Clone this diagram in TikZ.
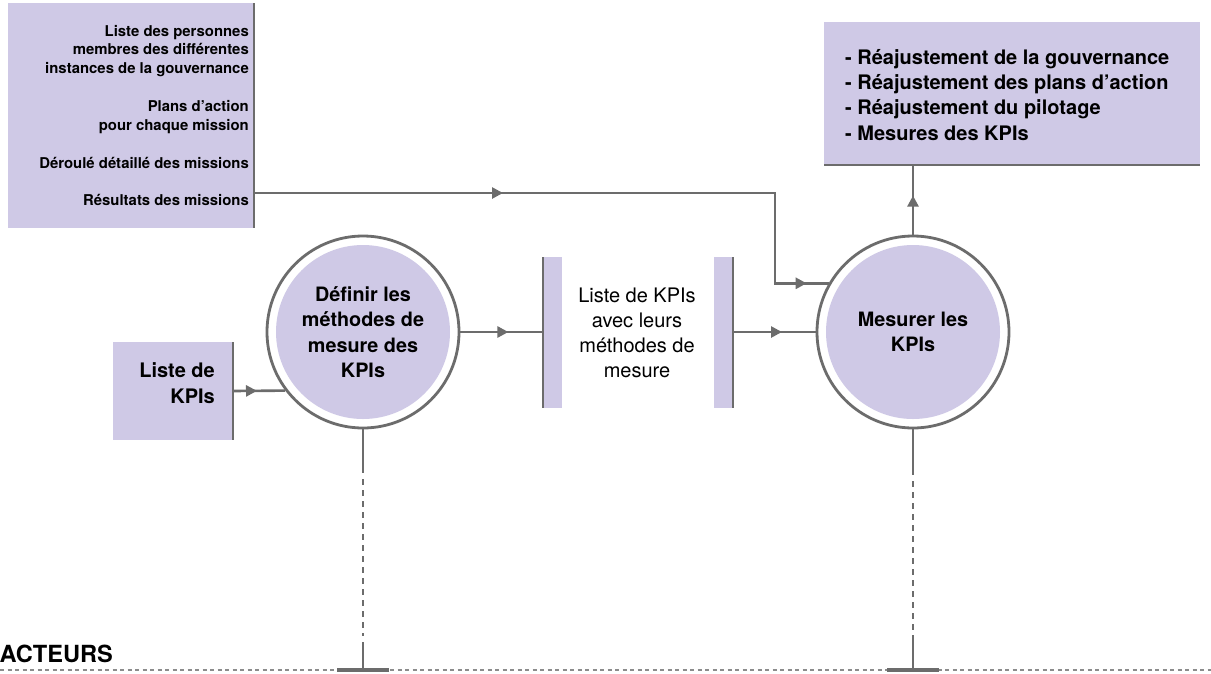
\documentclass[tikz,border=0pt]{standalone}
\usepackage{fontspec}
\setmainfont{TeX Gyre Heros}
\usetikzlibrary{arrows.meta,decorations.markings}
\definecolor{lav}{RGB}{207,201,230}
\definecolor{lg}{RGB}{108,108,108}
\definecolor{dg}{RGB}{140,140,140}
\begin{document}
\begin{tikzpicture}[x=1pt,y=-1pt,
  box/.style={fill=lav, inner sep=0pt, outer sep=0pt, anchor=north west},
  edgeline/.style={draw=lg, line width=2.8pt},
  flow/.style={draw=lg, line width=2.6pt},
  tipat/.style={postaction={decorate,decoration={markings,mark=at position #1 with {\arrow{Triangle[length=11pt,width=11pt,color=lg]}}}}},
  proc/.style={circle, minimum size=192pt, inner sep=0pt, draw=lg, line width=2.8pt, fill=white,
    path picture={\fill[lav] (path picture bounding box.center) circle (87pt);},
    font=\bfseries\fontsize{19.8}{25.3}\selectfont, align=center, text=black},
  smalltxt/.style={font=\bfseries\fontsize{14.9}{18.5}\selectfont, align=right, inner sep=0pt, anchor=base east},
  bigtxt/.style={font=\bfseries\fontsize{20}{25.3}\selectfont, inner sep=0pt},
  regtxt/.style={font=\fontsize{20}{25}\selectfont, inner sep=0pt, align=center},
  dashv/.style={draw=lg, line width=1.4pt, dash pattern=on 6pt off 5pt},
  dotsh/.style={draw=dg, line width=1.5pt, dash pattern=on 4pt off 3.5pt},
  actbar/.style={draw=lg, line width=4pt}
]
\useasboundingbox (0,0) rectangle (1211,673);

% input box (top left)
\node[box, minimum width=246pt, minimum height=225pt] (inputs) at (8,3) {};
\draw[edgeline] (inputs.north east) -- (inputs.south east);
\node[smalltxt] (in1) at (249,73) {Liste des personnes\\membres des différentes\\instances de la gouvernance};
\node[smalltxt] (in2) at (249,130) {Plans d’action\\pour chaque mission};
\node[smalltxt] (in3) at (249,168) {Déroulé détaillé des missions};
\node[smalltxt] (in4) at (249,205) {Résultats des missions};

% output box (top right)
\node[box, minimum width=376pt, minimum height=143pt] (outbox) at (824,22) {};
\draw[edgeline] (outbox.south west) -- (outbox.south east);
\node[bigtxt, align=left, anchor=base west] (outtxt) at (845,140) {- Réajustement de la gouvernance\\- Réajustement des plans d’action\\- Réajustement du pilotage\\- Mesures des KPIs};

% KPI list box
\node[box, minimum width=120pt, minimum height=98pt] (kpi) at (113,342) {};
\draw[edgeline] (kpi.north east) -- (kpi.south east);
\node[bigtxt, align=right, anchor=base east] (kpitxt) at (215,403) {Liste de\\KPIs};

% processes
\node[proc] (c1) at (363,332) {Définir les\\méthodes de\\mesure des\\KPIs};
\node[proc] (c2) at (913,332) {Mesurer les\\KPIs};

% data store
\node[box, minimum width=19pt, minimum height=151pt] (bar1) at (543,257) {};
\draw[edgeline] (bar1.north west) -- (bar1.south west);
\node[box, minimum width=19pt, minimum height=151pt] (bar2) at (714,257) {};
\draw[edgeline] (bar2.north east) -- (bar2.south east);
\node[regtxt, anchor=base] (storetxt) at (637,377) {Liste de KPIs\\avec leurs\\méthodes de\\mesure};

% flows
\coordinate (bend) at (775,193);
\draw[flow, tipat=249pt, tipat=643pt] (inputs.east |- bend) -- (bend) |- (c2.150);
\draw[flow, tipat=24pt] (kpi.east) -- (c1.217.9);
\draw[flow, tipat=48pt] (c1.east) -- (c1.east -| bar1.west);
\draw[flow, tipat=49pt] (c2.west -| bar2.east) -- (c2.west);
\draw[flow, tipat=39pt] (c2.north) -- (c2.north |- outbox.south);

% actors lane
\coordinate (a1) at (363,670);
\coordinate (a2) at (913,670);
\draw[dotsh] (0,670) -- (1211,670);
\draw[flow] (c1.south) -- (c1.south |- 0,473);
\draw[dashv] (c1.south |- 0,479) -- (c1.south |- 0,636);
\draw[flow] (c1.south |- 0,642) -- (a1);
\draw[actbar] ([xshift=-26pt]a1) -- ([xshift=26pt]a1);
\draw[flow] (c2.south) -- (c2.south |- 0,475);
\draw[dashv] (c2.south |- 0,481) -- (c2.south |- 0,630);
\draw[flow] (c2.south |- 0,635) -- (a2);
\draw[actbar] ([xshift=-26pt]a2) -- ([xshift=26pt]a2);
\node[font=\bfseries\fontsize{23.6}{28}\selectfont, inner sep=0pt, anchor=base west] (acteurs) at (-0.5,662) {ACTEURS};
\end{tikzpicture}
\end{document}
